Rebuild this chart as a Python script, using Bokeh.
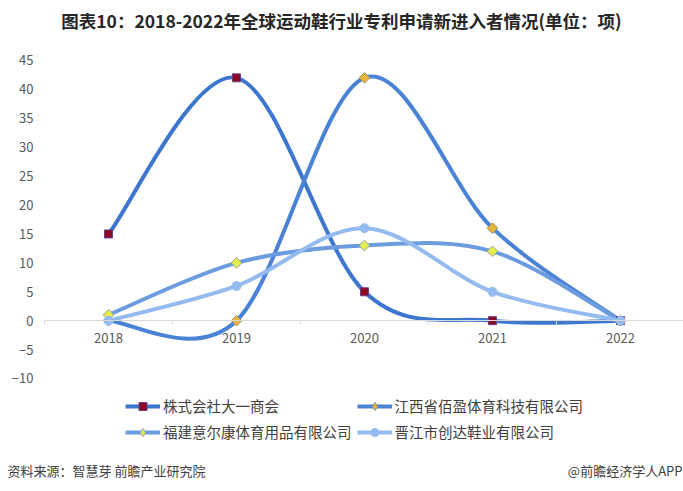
from bokeh.plotting import figure
from bokeh.models import Range1d, FixedTicker, Legend, LegendItem, Label, ColumnDataSource
from bokeh.embed import file_html
from bokeh.resources import INLINE

years = [2018, 2019, 2020, 2021, 2022]
year_labels = ["2018", "2019", "2020", "2021", "2022"]
names = ["株式会社大一商会", "江西省佰盈体育科技有限公司", "福建意尔康体育用品有限公司", "晋江市创达鞋业有限公司"]
s_daiichi = [15, 42, 5, 0, 0]
s_baiying = [0, 0, 42, 16, 0]
s_yierkang = [1, 10, 13, 12, 0]
s_chuangda = [0, 6, 16, 5, 0]
y_ticks = [-10, -5, 0, 5, 10, 15, 20, 25, 30, 35, 40, 45]

title_text = "图表10：2018-2022年全球运动鞋行业专利申请新进入者情况(单位：项)"
source_text = "资料来源：智慧芽 前瞻产业研究院"
credit_text = "@前瞻经济学人APP"

line_colors = ["#3C76CE", "#4A83D6", "#6C9CE0", "#93BBF0"]
markers = ["square", "square", "square", "circle"]
legend_markers = ["square", "diamond", "diamond", "circle"]
angles = [0, 0.785398, 0.785398, 0]
sizes = [8, 7.5, 7.5, 9]
fills = ["#8B0A24", "#E8B43A", "#E6F04A", "#93BBF0"]
edges = ["#6A3C86", "#9A8E6A", "#9AA0A0", "#93BBF0"]

FONT = "Noto Sans CJK SC"
W, H = 683, 491


def smooth(xs, ys):
    n = len(xs)
    d = dict(x0=[], y0=[], x1=[], y1=[], cx0=[], cy0=[], cx1=[], cy1=[])
    for i in range(n - 1):
        ip = max(i - 1, 0)
        inx = min(i + 2, n - 1)
        d["x0"].append(xs[i]); d["y0"].append(ys[i])
        d["x1"].append(xs[i + 1]); d["y1"].append(ys[i + 1])
        d["cx0"].append(xs[i] + (xs[i + 1] - xs[ip]) / 6)
        d["cy0"].append(ys[i] + (ys[i + 1] - ys[ip]) / 6)
        d["cx1"].append(xs[i + 1] - (xs[inx] - xs[i]) / 6)
        d["cy1"].append(ys[i + 1] - (ys[inx] - ys[i]) / 6)
    return ColumnDataSource(d)


x_lo = years[0] - 0.5
x_hi = years[-1] + 0.4922
p = figure(width=W, height=H, output_backend="svg", toolbar_location=None,
           x_range=Range1d(years[0] - 0.84375, x_hi), y_range=Range1d(-29.544, 55.377),
           min_border_left=0, min_border_right=0, min_border_top=0, min_border_bottom=0)
p.outline_line_color = None
p.background_fill_color = "white"
p.border_fill_color = "white"
p.xgrid.grid_line_color = None
p.ygrid.grid_line_color = None

# y axis floating at the left edge of the category area
p.yaxis.fixed_location = x_lo
p.yaxis.ticker = FixedTicker(ticks=y_ticks)
p.yaxis.axis_line_color = None
p.yaxis.major_tick_line_color = None
p.yaxis.major_tick_out = 0
p.yaxis.minor_tick_line_color = None
p.yaxis.major_label_text_font = FONT
p.yaxis.major_label_text_font_size = "13px"
p.yaxis.major_label_text_color = "#595959"
p.yaxis.major_label_standoff = 11

# x axis on the zero line
p.xaxis.fixed_location = 0
p.xaxis.bounds = (x_lo, x_hi)
p.xaxis.ticker = FixedTicker(ticks=years, minor_ticks=[y - 0.5 for y in years])
p.xaxis.major_label_overrides = {y: l for y, l in zip(years, year_labels)}
p.xaxis.axis_line_color = "#D9D9D9"
p.xaxis.major_tick_line_color = None
p.xaxis.major_tick_out = 0
p.xaxis.major_tick_in = 0
p.xaxis.minor_tick_line_color = "#D9D9D9"
p.xaxis.minor_tick_out = 4
p.xaxis.minor_tick_in = 0
p.xaxis.major_label_text_font = FONT
p.xaxis.major_label_text_font_size = "13px"
p.xaxis.major_label_text_color = "#595959"
p.xaxis.major_label_standoff = 8

series = [s_daiichi, s_baiying, s_yierkang, s_chuangda]
nan = float("nan")
line_rs = []
for i, ys in enumerate(series):
    src = smooth(years, ys)
    p.bezier(x0="x0", y0="y0", x1="x1", y1="y1", cx0="cx0", cy0="cy0", cx1="cx1", cy1="cy1",
             source=src, line_color=line_colors[i], line_width=4, line_cap="round")
    # legend-only line swatch (a single missing point, never drawn on the plot)
    line_rs.append(p.line(x=[nan], y=[nan], line_color=line_colors[i], line_width=4))

legend_marker_rs = []
for i, ys in enumerate(series):
    p.scatter(years, ys, marker=markers[i], size=sizes[i], angle=angles[i],
              fill_color=fills[i], line_color=edges[i], line_width=1)
    # legend-only marker swatch
    legend_marker_rs.append(p.scatter([nan], [nan], marker=legend_markers[i], size=8,
                                      fill_color=fills[i], line_color=edges[i], line_width=1))

order = [0, 2, 1, 3]
legend = Legend(items=[LegendItem(label=names[k], renderers=[line_rs[k], legend_marker_rs[k]]) for k in order],
                ncols=2, location=(125, 49), padding=0, margin=0, spacing=5,
                glyph_width=35, glyph_height=20, label_height=20, label_standoff=3,
                label_text_font=FONT, label_text_font_size="14.5px", label_text_color="#404040",
                border_line_color=None, background_fill_alpha=0)
p.add_layout(legend, "center")

p.add_layout(Label(x=341, y=H - 20, x_units="screen", y_units="screen", text=title_text,
                   text_font=FONT, text_font_size="17.5px", text_font_style="bold", text_color="#262626",
                   text_align="center", text_baseline="middle"))
p.add_layout(Label(x=7, y=H - 470, x_units="screen", y_units="screen", text=source_text,
                   text_font=FONT, text_font_size="13px", text_color="#404040", text_baseline="middle"))
p.add_layout(Label(x=W - 1, y=H - 470, x_units="screen", y_units="screen", text=credit_text,
                   text_font=FONT, text_font_size="13px", text_color="#404040", text_baseline="middle",
                   text_align="right"))

open("out.html", "w").write(file_html(p, INLINE))
